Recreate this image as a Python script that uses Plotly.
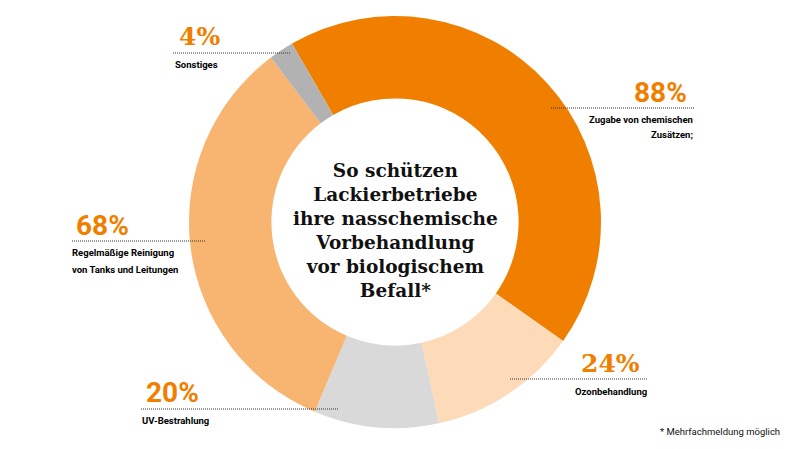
import plotly.graph_objects as go

# Data
labels = ["Zugabe von chemischen Zusätzen;", "Ozonbehandlung", "UV-Bestrahlung",
          "Regelmäßige Reinigung von Tanks und Leitungen", "Sonstiges"]
values = [88, 24, 20, 68, 4]
pct_text = ["88%", "24%", "20%", "68%", "4%"]
colors = ["#F07F00", "#FDDBB9", "#D9D9D9", "#F8B572", "#B2B2B2"]
title_lines = ["So schützen", "Lackierbetriebe", "ihre nasschemische",
               "Vorbehandlung", "vor biologischem", "Befall*"]
footnote = "* Mehrfachmeldung möglich"

W, H = 805, 449
OFF = 8  # page body margin
cx, cy, R = 395, 222, 206

def px(x):
    return (x - OFF) / W

def py(y):
    return 1 - (y - OFF) / H

fig = go.Figure(go.Pie(
    labels=labels, values=values, marker=dict(colors=colors, line=dict(width=0)),
    hole=0.6, sort=False, direction="clockwise", rotation=-30,
    textinfo="none", hoverinfo="label+value", showlegend=False,
    domain=dict(x=[px(cx - R), px(cx + R)], y=[py(cy + R), py(cy - R)]),
))

ORANGE = "#F07F00"
anns = []
shapes = []

def add_label(pct, pct_font, pct_x, pct_y, anchor, line_x0, line_x1, line_y, text_lines, text_x, text_y0, dy=15):
    anns.append(dict(x=px(pct_x), y=py(pct_y), xref="paper", yref="paper", text=pct,
                     showarrow=False, xanchor=anchor, yanchor="middle",
                     font=dict(family=pct_font[0], size=pct_font[1], color=ORANGE)))
    shapes.append(dict(type="line", xref="paper", yref="paper",
                       x0=px(line_x0), x1=px(line_x1), y0=py(line_y), y1=py(line_y),
                       line=dict(color="#333333", width=1, dash="1px,1px")))
    for i, t in enumerate(text_lines):
        anns.append(dict(x=px(text_x), y=py(text_y0 + i * dy), xref="paper", yref="paper",
                         text="<b>" + t + "</b>", showarrow=False, xanchor=anchor, yanchor="middle",
                         font=dict(family="Roboto", size=9.5, color="#000000")))

SANS = ("Roboto, sans-serif", 28)
SLAB = ("DejaVu Serif", 25)

add_label("<b>" + pct_text[4] + "</b>", SLAB, 177, 37, "left", 173, 290, 53, ["Sonstiges"], 173, 64)
add_label("<b>" + pct_text[0] + "</b>", SANS, 689, 93, "right", 551, 694, 108,
          ["Zugabe von chemischen", "Zusätzen;"], 695, 119)
add_label("<b>" + pct_text[3] + "</b>", SANS, 74, 225, "left", 72, 205, 241,
          ["Regelmäßige Reinigung", "von Tanks und Leitungen"], 70, 253, dy=16)
add_label("<b>" + pct_text[2] + "</b>", SANS, 144, 392, "left", 141, 338, 409,
          ["UV-Bestrahlung"], 140, 420)
add_label("<b>" + pct_text[1] + "</b>", SLAB, 642, 363, "right", 510, 647, 379,
          ["Ozonbehandlung"], 649, 391)

anns.append(dict(x=px(cx), y=py(230), xref="paper", yref="paper",
                 text="<b>" + "<br>".join(title_lines) + "</b>", showarrow=False,
                 xanchor="center", yanchor="middle", align="center",
                 font=dict(family="DejaVu Serif", size=18.5, color="#111111")))
anns.append(dict(x=px(782), y=py(431), xref="paper", yref="paper", text=footnote,
                 showarrow=False, xanchor="right", yanchor="middle",
                 font=dict(family="Roboto", size=9.5, color="#111111")))

fig.update_layout(width=W, height=H, margin=dict(l=0, r=0, t=0, b=0),
                  paper_bgcolor="white", plot_bgcolor="white",
                  annotations=anns, shapes=shapes)

fig.write_html("out.html")
